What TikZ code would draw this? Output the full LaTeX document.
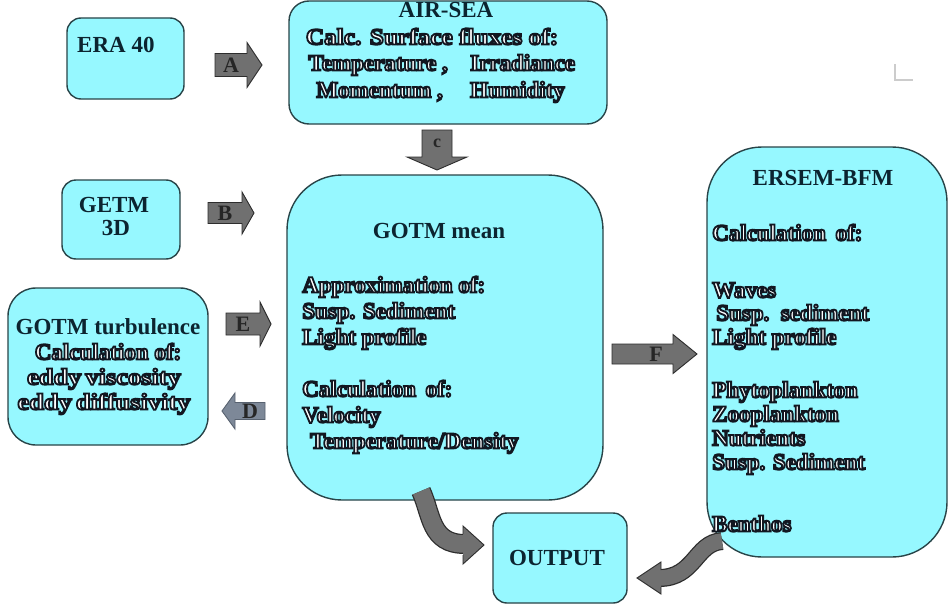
\documentclass[tikz,border=0pt]{standalone}
\usepackage{fontspec}
\setmainfont{Liberation Serif}
\newfontfamily\hdfont{Liberation Serif Bold}
\newfontfamily\olfont[FakeBold=8]{Liberation Serif Bold}
\newfontfamily\olwide[FakeBold=8, FakeStretch=1.15, WordSpace=0.6]{Liberation Serif Bold}
\newfontfamily\olmid[FakeBold=8, FakeStretch=1.1]{Liberation Serif Bold}
\definecolor{boxfill}{RGB}{150,248,255}
\definecolor{boxline}{RGB}{40,68,72}
\definecolor{hdtext}{RGB}{12,36,48}
\definecolor{arrfill}{RGB}{112,112,112}
\definecolor{arrline}{RGB}{45,45,45}
\definecolor{darrfill}{RGB}{125,136,152}
\definecolor{darrline}{RGB}{88,98,112}
\newcommand\ol[1]{{\color{white}\special{pdf:literal direct 0.07 0.09 0.13 RG}#1}}
\tikzset{
  box/.style={draw=boxline, fill=boxfill, line width=1.4pt, inner sep=0pt},
  hd/.style={font=\hdfont\fontsize{23}{26}\selectfont, text=hdtext, inner sep=0pt},
  oltext/.style={font=\olfont\fontsize{23}{26}\selectfont, inner sep=0pt},
  olwidetext/.style={font=\olwide\fontsize{23}{26}\selectfont, inner sep=0pt},
  olmidtext/.style={font=\olmid\fontsize{23}{26}\selectfont, inner sep=0pt},
  alab/.style={font=\hdfont\fontsize{22}{24}\selectfont, text=black!85, inner sep=0pt},
  blockarrow/.style={fill=arrfill, draw=arrline, line width=0.9pt, line join=miter},
}
\begin{document}
\begin{tikzpicture}[x=1pt,y=-1pt]
\useasboundingbox (0,0) rectangle (949,610);
\fill[white] (0,0) rectangle (949,610);

% boxes
\node[box, minimum width=117pt, minimum height=81pt, rounded corners=14pt] (era) at (125.5,58.5) {};
\node[box, minimum width=318pt, minimum height=123pt, rounded corners=20pt] (airsea) at (448,62.5) {};
\node[box, minimum width=118pt, minimum height=79pt, rounded corners=14pt] (getm) at (121,219.5) {};
\node[box, minimum width=200pt, minimum height=157pt, rounded corners=28pt] (turb) at (108,366.5) {};
\node[box, minimum width=316pt, minimum height=325pt, rounded corners=55pt] (mean) at (445,337.5) {};
\node[box, minimum width=240pt, minimum height=410pt, rounded corners=55pt] (ersem) at (827,352) {};
\node[box, minimum width=134pt, minimum height=90pt, rounded corners=14pt] (output) at (560,558) {};

% box texts
\node[hd, anchor=base west] (t-era) at (77,52.6) {ERA 40};

\node[hd, anchor=base] (t-as1) at (446,17.5) {AIR-SEA};
\node[olmidtext, anchor=base] (t-as2) at (432,44.5) {\ol{Calc. Surface fluxes of:}};
\node[oltext, anchor=base east] (t-as3) at (448,70.5) {\ol{Temperature ,}};
\node[oltext, anchor=base west] (t-as4) at (470,70.5) {\ol{Irradiance}};
\node[oltext, anchor=base east] (t-as5) at (443,97.5) {\ol{Momentum ,}};
\node[oltext, anchor=base west] (t-as6) at (470,97.5) {\ol{Humidity}};

\node[hd, anchor=base] (t-getm1) at (114,212) {GETM};
\node[hd, anchor=base] (t-getm2) at (116,235) {3D};

\node[hd, anchor=base] (t-tu1) at (108,334.5) {GOTM turbulence};
\node[oltext, anchor=base] (t-tu2) at (108,359.5) {\ol{Calculation of:}};
\node[olwidetext, anchor=base] (t-tu3) at (104,384.5) {\ol{eddy viscosity}};
\node[olwidetext, anchor=base] (t-tu4) at (104,409.5) {\ol{eddy diffusivity}};

\node[hd, anchor=base] (t-me1) at (439,238.5) {GOTM mean};
\node[oltext, anchor=base west] (t-me2) at (302,292.5) {\ol{Approximation of:}};
\node[oltext, anchor=base west] (t-me3) at (302,318.5) {\ol{Susp. Sediment}};
\node[oltext, anchor=base west] (t-me4) at (302,344.5) {\ol{Light profile}};
\node[oltext, anchor=base west] (t-me5) at (302,396.5) {\ol{Calculation\, of:}};
\node[oltext, anchor=base west] (t-me6) at (302,422.5) {\ol{Velocity}};
\node[oltext, anchor=base west] (t-me7) at (310,448.5) {\ol{Temperature/Density}};

\node[hd, anchor=base] (t-er1) at (823,185.5) {ERSEM-BFM};
\node[oltext, anchor=base west] (t-er2) at (712,240.5) {\ol{Calculation\, of:}};
\node[oltext, anchor=base west] (t-er3) at (712,297.5) {\ol{Waves}};
\node[oltext, anchor=base west] (t-er4) at (716,320.5) {\ol{Susp.\, sediment}};
\node[oltext, anchor=base west] (t-er5) at (712,344.5) {\ol{Light profile}};
\node[oltext, anchor=base west] (t-er6) at (712,397.5) {\ol{Phytoplankton}};
\node[oltext, anchor=base west] (t-er7) at (712,421.5) {\ol{Zooplankton}};
\node[oltext, anchor=base west] (t-er8) at (712,445.5) {\ol{Nutrients}};
\node[oltext, anchor=base west] (t-er9) at (712,469.5) {\ol{Susp. Sediment}};
\node[oltext, anchor=base west] (t-er10) at (712,531.5) {\ol{Benthos}};

\node[hd, anchor=base] (t-out) at (557,565.5) {OUTPUT};

% block arrows
\draw[blockarrow] (215,53.5) -- (247,53.5) -- (247,42.5) -- (262,65) -- (247,87.5) -- (247,76.5) -- (215,76.5) -- cycle;
\node[alab] (la) at (231,65) {A};
\draw[blockarrow] (208,202.5) -- (242,202.5) -- (242,192) -- (254,213) -- (242,234) -- (242,223.5) -- (208,223.5) -- cycle;
\node[alab] (lb) at (225,213) {B};
\draw[blockarrow] (226,313) -- (260,313) -- (260,302) -- (271,324) -- (260,346) -- (260,335) -- (226,335) -- cycle;
\node[alab] (le) at (243,324) {E};
\draw[blockarrow, fill=darrfill, draw=darrline] (265,402.5) -- (235,402.5) -- (235,393) -- (222,411) -- (235,429) -- (235,419.5) -- (265,419.5) -- cycle;
\node[alab] (ld) at (250,411) {D};
\draw[blockarrow] (612,344) -- (673,344) -- (673,334.5) -- (697,354) -- (673,373.5) -- (673,364) -- (612,364) -- cycle;
\node[alab] (lf) at (656,354) {F};
\draw[blockarrow] (422,130) -- (422,157) -- (407,157) -- (437,170) -- (467,157) -- (452,157) -- (452,130) -- cycle;
\node[alab, font=\hdfont\fontsize{18}{20}\selectfont] (lc) at (437,143) {c};

% curved arrows to output
\coordinate (c1s) at (421,491);
\coordinate (c1e) at (465,544);
\draw[arrline, line width=20pt] (c1s) .. controls (432,515) and (430,544) .. (c1e);
\draw[arrfill, line width=17.5pt] (c1s) .. controls (432,515) and (430,544) .. (c1e);
\filldraw[fill=arrfill, draw=arrline, line width=0.9pt, line join=miter] (463,534) -- (463,526) -- (484,545) -- (463,564) -- (463,555);

\coordinate (c2s) at (722,541);
\coordinate (c2e) at (659,578);
\draw[arrline, line width=18pt] (c2s) .. controls (695,543) and (695,578) .. (c2e);
\draw[arrfill, line width=15.5pt] (c2s) .. controls (695,543) and (695,578) .. (c2e);
\filldraw[fill=arrfill, draw=arrline, line width=0.9pt, line join=miter] (661,570) -- (661,562) -- (637,578) -- (661,594) -- (661,587);

% small corner mark
\draw[black!20, line width=1.5pt] (895,64) -- (895,80) -- (913,80);
\end{tikzpicture}
\end{document}
